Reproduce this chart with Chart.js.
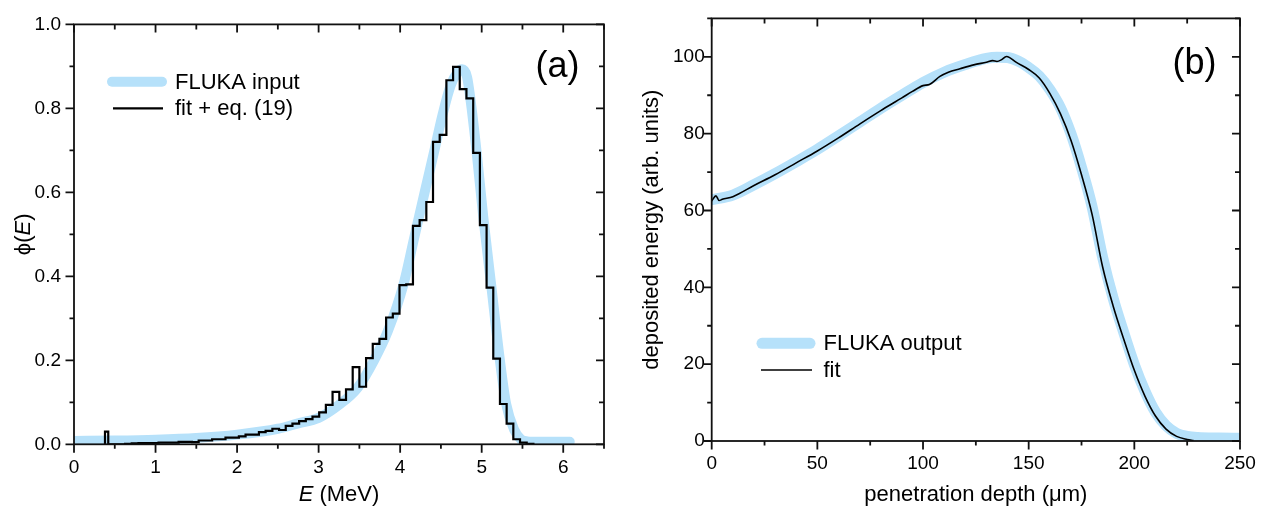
<!DOCTYPE html>
<html>
<head>
<meta charset="utf-8">
<script src="https://cdn.jsdelivr.net/npm/chart.js@4.4.1/dist/chart.umd.min.js"></script>
<style>
  html, body { margin: 0; padding: 0; background: #fff; }
  #wrap { position: relative; width: 1268px; height: 516px; }
  canvas { position: absolute; top: 0; }
</style>
</head>
<body>
<div id="wrap">
  <canvas id="chartA" width="634" height="516" style="left:0"></canvas>
  <canvas id="chartB" width="634" height="516" style="left:634px"></canvas>
</div>
<script>
// ---------- panel (a): energy spectrum ----------
// FLUKA input spectrum (smooth)
const inputE   = [0, 0.5, 1.0, 1.5, 2.0, 2.5, 2.75, 3.0, 3.25, 3.48, 3.68, 3.85, 4.04, 4.17, 4.3, 4.42, 4.52, 4.62, 4.70, 4.76, 4.82, 4.86, 4.94, 5.02, 5.12, 5.22, 5.30, 5.40, 5.48, 5.56, 5.7, 6.0, 6.08];
const inputPhi = [0.008, 0.009, 0.011, 0.015, 0.023, 0.037, 0.05, 0.063, 0.094, 0.135, 0.2, 0.27, 0.38, 0.49, 0.6, 0.70, 0.785, 0.855, 0.885, 0.893, 0.875, 0.825, 0.692, 0.54, 0.373, 0.205, 0.096, 0.034, 0.012, 0.007, 0.006, 0.006, 0.006];

// fit + eq. (19): histogram, value holds from each edge to the next
const fitE = [0.38, 0.38, 0.42, 0.462, 0.544, 0.626, 0.708, 0.791, 0.873, 0.955, 1.037, 1.119, 1.201, 1.283, 1.365, 1.447,
  1.529, 1.612, 1.694, 1.776, 1.858, 1.940, 2.022, 2.104, 2.186, 2.268, 2.350, 2.433, 2.515, 2.597, 2.679, 2.761, 2.843,
  2.925, 3.007, 3.089, 3.171, 3.254, 3.336, 3.418, 3.500, 3.582, 3.664, 3.746, 3.828, 3.910, 3.992, 4.075, 4.157, 4.239,
  4.321, 4.403, 4.485, 4.567, 4.649, 4.731, 4.813, 4.896, 4.978, 5.060, 5.142, 5.224, 5.306, 5.388, 5.470, 5.552, 5.634];
const fitPhi = [0, 0.03, 0, 0, 0, 0.001, 0.002, 0.003, 0.003, 0.003, 0.004, 0.004, 0.004, 0.006, 0.006, 0.005,
  0.009, 0.009, 0.012, 0.012, 0.016, 0.016, 0.019, 0.023, 0.023, 0.029, 0.032, 0.037, 0.034, 0.044, 0.049, 0.055, 0.060,
  0.066, 0.076, 0.094, 0.125, 0.106, 0.131, 0.184, 0.137, 0.205, 0.239, 0.251, 0.302, 0.311, 0.379, 0.381, 0.520, 0.534,
  0.577, 0.720, 0.737, 0.867, 0.899, 0.846, 0.824, 0.694, 0.522, 0.373, 0.204, 0.096, 0.049, 0.012, 0.004, 0.001, 0];

const aXTicks = [0, 1, 2, 3, 4, 5, 6];
const aYTicks = [0, 0.2, 0.4, 0.6, 0.8, 1.0];

// ---------- panel (b): depth profile ----------
const depthOut = [0, 10, 20, 30, 40, 50, 60, 70, 80, 90, 100, 110, 120, 130, 135, 140, 145, 150, 155, 160, 165, 170,
  175, 180, 185, 190, 195, 200, 205, 210, 215, 220, 225, 230, 240, 250];
const doseOut  = [62.8, 64.0, 66.7, 69.6, 72.7, 75.9, 79.4, 83.0, 86.6, 90.0, 93.3, 96.0, 98.0, 99.6, 99.9, 99.8, 98.9, 97.2,
  95.0, 91.5, 86.8, 80.0, 71.2, 61.0, 47.8, 37.1, 28.2, 19.9, 13.0, 7.5, 4.0, 2.0, 1.2, 0.9, 0.75, 0.7];

const depthFit = [0, 2, 3.5, 5, 10, 20, 30, 40, 50, 60, 70, 80, 90, 95, 100, 103, 108, 112, 117.5, 124, 130, 133, 135, 137,
  139.5, 141, 144, 150, 155, 160, 165, 170, 175, 180, 185, 190, 195, 200, 205, 210, 215, 220, 225, 228];
const doseFit  = [62.5, 63.8, 62.6, 62.9, 63.6, 66.5, 69.3, 72.4, 75.5, 78.9, 82.5, 86.0, 89.3, 91.0, 92.5, 92.8, 94.9, 96.0,
  96.9, 97.9, 98.6, 99.0, 98.8, 99.2, 100.1, 99.8, 98.6, 96.7, 94.5, 90.5, 85.2, 78.3, 69.3, 59.0, 45.3, 35.1, 26.5, 18.4,
  11.7, 6.5, 3.1, 1.2, 0.4, 0.1];

const bXTicks = [0, 50, 100, 150, 200, 250];
const bYTicks = [0, 20, 40, 60, 80, 100];

// ---------- styling ----------
const BLUE = 'rgb(182,225,250)';
const FONT = "'Liberation Sans', Arial, sans-serif";
const INK = '#111';

function toXY(xs, ys) {
  return xs.map((x, i) => ({ x: x, y: ys[i] }));
}

// half-way minor ticks between the major ones
function minors(major, max) {
  const out = [];
  const step = major[1] - major[0];
  major.forEach(v => {
    const m = v + step / 2;
    if (m <= max + 1e-9) out.push(m);
  });
  return out;
}

// draw a run of text pieces (mixed upright / italic) centred at cx, cy
function drawRuns(ctx, runs, cx, cy, rotate) {
  ctx.save();
  ctx.translate(cx, cy);
  if (rotate) ctx.rotate(-Math.PI / 2);
  ctx.textBaseline = 'middle';
  ctx.textAlign = 'left';
  ctx.fillStyle = '#000';
  let w = 0;
  runs.forEach(r => { ctx.font = r.font; w += ctx.measureText(r.text).width; });
  let x = -w / 2;
  runs.forEach(r => {
    ctx.font = r.font;
    ctx.fillText(r.text, x, 0);
    x += ctx.measureText(r.text).width;
  });
  ctx.restore();
}

// frame with Origin-like ticks: outward on bottom/left, inward on top/right
function framePlugin(xMajor, yMajor) {
  return {
    id: 'frame',
    afterDraw(chart) {
      const ctx = chart.ctx;
      const a = chart.chartArea;
      const xs = chart.scales.x, ys = chart.scales.y;
      const xMin = minors(xMajor, xs.max), yMin = minors(yMajor, ys.max);
      ctx.save();
      ctx.strokeStyle = INK;
      ctx.lineWidth = 1.8;
      ctx.beginPath();
      const seg = (x1, y1, x2, y2) => { ctx.moveTo(x1, y1); ctx.lineTo(x2, y2); };
      xMajor.forEach(v => {
        const p = xs.getPixelForValue(v);
        seg(p, a.bottom, p, a.bottom + 8.5);
        seg(p, a.top, p, a.top + 8);
      });
      xMin.forEach(v => {
        const p = xs.getPixelForValue(v);
        seg(p, a.bottom, p, a.bottom + 4.5);
        seg(p, a.top, p, a.top + 5);
      });
      yMajor.forEach(v => {
        const p = ys.getPixelForValue(v);
        seg(a.left - 8.5, p, a.left, p);
        seg(a.right - 8, p, a.right, p);
      });
      yMin.forEach(v => {
        const p = ys.getPixelForValue(v);
        seg(a.left - 4.5, p, a.left, p);
        seg(a.right - 5, p, a.right, p);
      });
      ctx.stroke();
      ctx.strokeRect(a.left, a.top, a.right - a.left, a.bottom - a.top);
      ctx.restore();
    }
  };
}

// legend, panel tag and axis titles
function textPlugin(cfg) {
  return {
    id: 'texts',
    afterDraw(chart) {
      const ctx = chart.ctx;
      ctx.save();
      cfg.legend.forEach(item => {
        const ds = chart.data.datasets[item.dataset];
        ctx.strokeStyle = ds.borderColor;
        ctx.lineWidth = ds.borderWidth;
        ctx.lineCap = item.cap;
        ctx.beginPath();
        ctx.moveTo(item.x1, item.y);
        ctx.lineTo(item.x2, item.y);
        ctx.stroke();
        ctx.font = '22px ' + FONT;
        ctx.fillStyle = '#000';
        ctx.textBaseline = 'middle';
        ctx.textAlign = 'left';
        ctx.fillText(ds.label, cfg.legendTextX, item.y + 1);
      });
      ctx.font = '36px ' + FONT;
      ctx.textAlign = 'center';
      ctx.textBaseline = 'middle';
      ctx.fillStyle = '#000';
      ctx.fillText(cfg.tag, cfg.tagX, cfg.tagY);
      ctx.restore();
      const a = chart.chartArea;
      drawRuns(ctx, cfg.xTitle, (a.left + a.right) / 2, cfg.xTitleY, false);
      drawRuns(ctx, cfg.yTitle, cfg.yTitleX, (a.top + a.bottom) / 2, true);
    }
  };
}

function axis(min, max, tickValues, fmt, padding, size, isY) {
  return {
    type: 'linear',
    min: min,
    max: max,
    grid: { display: false, drawTicks: false },
    border: { display: false },
    afterBuildTicks: scale => { scale.ticks = tickValues.map(v => ({ value: v })); },
    afterFit: scale => { if (isY) scale.width = size; else scale.height = size; },
    ticks: {
      color: '#000',
      padding: padding,
      font: { family: FONT, size: 19 },
      callback: fmt
    }
  };
}

const UP = '22px ' + FONT;
const IT = 'italic 22px ' + FONT;

// ---------- chart (a) ----------
new Chart(document.getElementById('chartA'), {
  type: 'line',
  data: {
    datasets: [
      {
        label: 'fit + eq. (19)',
        data: toXY(fitE, fitPhi),
        borderColor: '#000',
        borderWidth: 2.2,
        stepped: 'before',
        pointRadius: 0,
        clip: 0,
        order: 0
      },
      {
        label: 'FLUKA input',
        data: toXY(inputE, inputPhi),
        borderColor: BLUE,
        borderWidth: 10,
        borderCapStyle: 'round',
        borderJoinStyle: 'round',
        cubicInterpolationMode: 'monotone',
        pointRadius: 0,
        clip: 0,
        order: 1
      }
    ]
  },
  options: {
    responsive: false,
    animation: false,
    layout: { padding: { top: 17.5, right: 30, left: 0, bottom: 0 } },
    scales: {
      x: axis(0, 6.5, aXTicks, v => String(v), 12, 71.7, false),
      y: axis(0, 1.0, aYTicks, v => v.toFixed(1), 13, 74, true)
    },
    plugins: { legend: { display: false }, tooltip: { enabled: false } }
  },
  plugins: [
    framePlugin(aXTicks, aYTicks),
    textPlugin({
      legend: [
        { dataset: 1, x1: 112, x2: 162, y: 81.7, cap: 'round' },
        { dataset: 0, x1: 113, x2: 163, y: 108.3, cap: 'butt' }
      ],
      legendTextX: 175,
      tag: '(a)', tagX: 557.5, tagY: 67,
      xTitle: [{ text: 'E', font: IT }, { text: ' (MeV)', font: UP }],
      xTitleY: 495,
      yTitle: [{ text: '\u03d5(', font: UP }, { text: 'E', font: IT }, { text: ')', font: UP }],
      yTitleX: 24
    })
  ]
});

// ---------- chart (b) ----------
new Chart(document.getElementById('chartB'), {
  type: 'line',
  data: {
    datasets: [
      {
        label: 'fit',
        data: toXY(depthFit, doseFit),
        borderColor: '#000',
        borderWidth: 1.6,
        cubicInterpolationMode: 'monotone',
        pointRadius: 0,
        clip: 0,
        order: 0
      },
      {
        label: 'FLUKA output',
        data: toXY(depthOut, doseOut),
        borderColor: BLUE,
        borderWidth: 11,
        borderCapStyle: 'round',
        borderJoinStyle: 'round',
        cubicInterpolationMode: 'monotone',
        pointRadius: 0,
        clip: 0,
        order: 1
      }
    ]
  },
  options: {
    responsive: false,
    animation: false,
    layout: { padding: { top: 15, right: 28, left: 0, bottom: 0 } },
    scales: {
      x: axis(0, 250, bXTicks, v => String(v), 11, 75, false),
      y: axis(0, 110, bYTicks, v => String(v), 7, 77.7, true)
    },
    plugins: { legend: { display: false }, tooltip: { enabled: false } }
  },
  plugins: [
    framePlugin(bXTicks, bYTicks),
    textPlugin({
      legend: [
        { dataset: 1, x1: 128, x2: 176, y: 343.3, cap: 'round' },
        { dataset: 0, x1: 127, x2: 178, y: 370, cap: 'butt' }
      ],
      legendTextX: 189.5,
      tag: '(b)', tagX: 560.5, tagY: 64,
      xTitle: [{ text: 'penetration depth (\u03bcm)', font: UP }],
      xTitleY: 495,
      yTitle: [{ text: 'deposited energy (arb. units)', font: UP }],
      yTitleX: 18
    })
  ]
});
</script>
</body>
</html>
